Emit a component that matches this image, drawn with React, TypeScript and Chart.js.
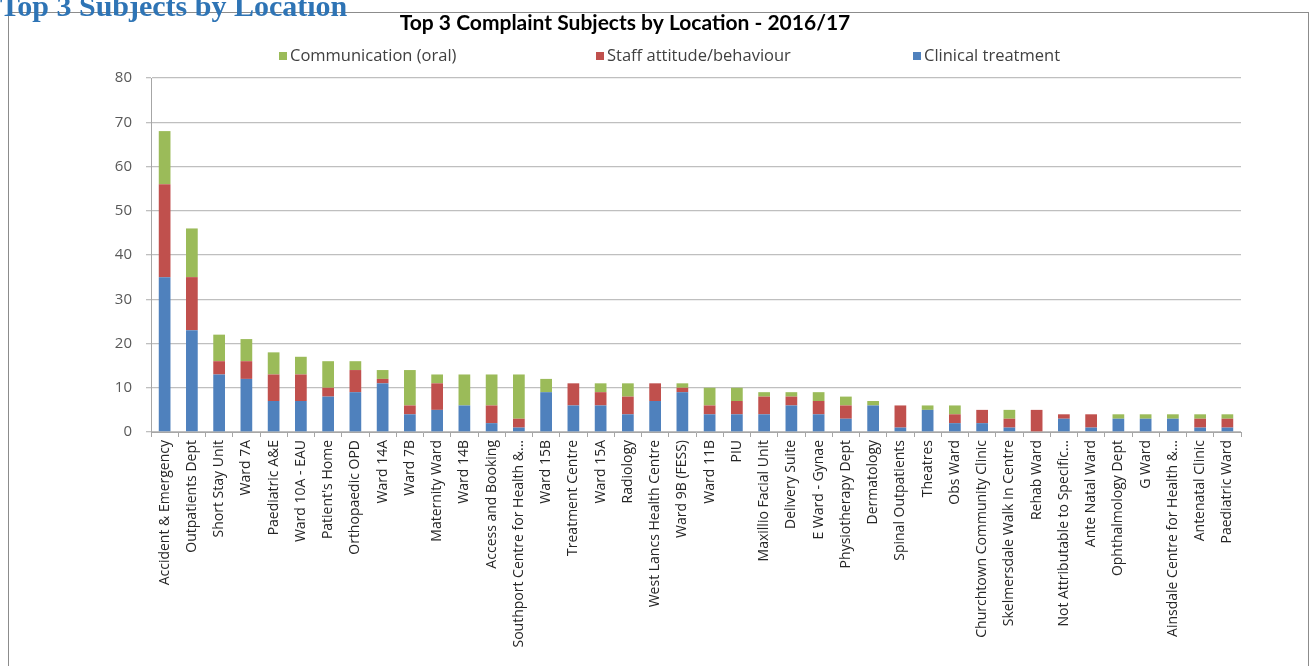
import React, { useEffect, useRef } from "react";
import { Chart, registerables } from "chart.js";

Chart.register(...registerables);

const locations = [
  "Accident & Emergency",
  "Outpatients Dept",
  "Short Stay Unit",
  "Ward 7A",
  "Paediatric A&E",
  "Ward 10A - EAU",
  "Patient's Home",
  "Orthopaedic OPD",
  "Ward 14A",
  "Ward 7B",
  "Maternity Ward",
  "Ward 14B",
  "Access and Booking",
  "Southport Centre for Health &...",
  "Ward 15B",
  "Treatment Centre",
  "Ward 15A",
  "Radiology",
  "West Lancs Health Centre",
  "Ward 9B (FESS)",
  "Ward 11B",
  "PIU",
  "Maxillio Facial Unit",
  "Delivery Suite",
  "E Ward - Gynae",
  "Physiotherapy Dept",
  "Dermatology",
  "Spinal Outpatients",
  "Theatres",
  "Obs Ward",
  "Churchtown Community Clinic",
  "Skelmersdale Walk In Centre",
  "Rehab Ward",
  "Not Attributable to Specific...",
  "Ante Natal Ward",
  "Ophthalmology Dept",
  "G Ward",
  "Ainsdale Centre for Health &...",
  "Antenatal Clinic",
  "Paediatric Ward",
];

const clinicalTreatment = [35, 23, 13, 12, 7, 7, 8, 9, 11, 4, 5, 6, 2, 1, 9, 6, 6, 4, 7, 9, 4, 4, 4, 6, 4, 3, 6, 1, 5, 2, 2, 1, 0, 3, 1, 3, 3, 3, 1, 1];
const staffAttitude = [21, 12, 3, 4, 6, 6, 2, 5, 1, 2, 6, 0, 4, 2, 0, 5, 3, 4, 4, 1, 2, 3, 4, 2, 3, 3, 0, 5, 0, 2, 3, 2, 5, 1, 3, 0, 0, 0, 2, 2];
const communicationOral = [12, 11, 6, 5, 5, 4, 6, 2, 2, 8, 2, 7, 7, 10, 3, 0, 2, 3, 0, 1, 4, 3, 1, 1, 2, 2, 1, 0, 1, 2, 0, 2, 0, 0, 0, 1, 1, 1, 1, 1];

const seriesNames = ["Clinical treatment", "Staff attitude/behaviour", "Communication (oral)"];
const seriesColors = ["#4F81BD", "#C0504D", "#9BBB59"];
const yTicks = [0, 10, 20, 30, 40, 50, 60, 70, 80];

const chartTitle = "Top 3 Complaint Subjects by Location - 2016/17";
const pageHeading = "Top 3 Subjects by Location";

const CANVAS_W = 1299;
const CANVAS_H = 653;

// Legend spread across the top like Excel's legend
const spreadLegend = {
  id: "spreadLegend",
  afterDraw(chart: any) {
    const ctx = chart.ctx;
    const ds = chart.data.datasets.slice().reverse();
    const startX = chart.chartArea.left + 128;
    const step = 317;
    const y = 43;
    ctx.save();
    ctx.font = "16.5px 'Open Sans'";
    ctx.textBaseline = "middle";
    ctx.textAlign = "left";
    ds.forEach((d: any, i: number) => {
      const x = startX + i * step;
      ctx.fillStyle = d.backgroundColor;
      ctx.fillRect(x, y - 4, 8, 8);
      ctx.fillStyle = "#404040";
      ctx.fillText(d.label, x + 11, y);
    });
    ctx.restore();
  },
};

export default function App() {
  const ref = useRef<HTMLCanvasElement | null>(null);

  useEffect(() => {
    if (!ref.current) return;
    const datasets = [clinicalTreatment, staffAttitude, communicationOral].map((vals, i) => ({
      label: seriesNames[i],
      data: vals,
      backgroundColor: seriesColors[i],
      borderWidth: 0,
      barPercentage: 0.43,
      categoryPercentage: 1,
    }));
    const chart = new Chart(ref.current, {
      type: "bar",
      data: { labels: locations, datasets },
      options: {
        responsive: false,
        animation: false,
        layout: { padding: { left: 0, right: 67, top: 0, bottom: 0 } },
        plugins: {
          legend: { display: false },
          tooltip: { enabled: false },
          title: {
            display: true,
            text: chartTitle,
            color: "#000000",
            font: { family: "Lato", size: 21, weight: "bold", lineHeight: 1 },
            padding: { top: 0, bottom: 44 },
          },
        },
        scales: {
          x: {
            stacked: true,
            afterFit: (scale: any) => {
              scale.height = 234;
            },
            grid: {
              display: true,
              drawOnChartArea: false,
              drawTicks: true,
              tickLength: 5,
              color: "#a6a6a6",
              offset: true,
            },
            border: { color: "#a6a6a6" },
            ticks: {
              autoSkip: false,
              maxRotation: 90,
              minRotation: 90,
              padding: 3,
              color: "#262626",
              font: { family: "Open Sans", size: 14 },
            },
          },
          y: {
            stacked: true,
            min: 0,
            max: 80,
            afterFit: (scale: any) => {
              scale.width = 142;
            },
            afterBuildTicks: (scale: any) => {
              scale.ticks = yTicks.map((v) => ({ value: v }));
            },
            grid: { color: "#bfbfbf", tickLength: 5, lineWidth: 1.3 },
            border: { color: "#a6a6a6" },
            ticks: {
              padding: 14,
              color: "#595959",
              font: { family: "Open Sans", size: 15 },
            },
          },
        },
      },
      plugins: [spreadLegend],
    });
    return () => chart.destroy();
  }, []);

  return (
    <div style={{ position: "fixed", left: 0, top: 0, width: 1312, height: 666, background: "#fff", overflow: "hidden" }}>
      <div
        style={{
          position: "absolute",
          left: 8,
          top: 12,
          width: 1299,
          height: 700,
          border: "1px solid #8c8c8c",
          background: "#fff",
        }}
      >
        <canvas ref={ref} width={CANVAS_W} height={CANVAS_H} style={{ width: CANVAS_W, height: CANVAS_H, display: "block" }} />
      </div>
      <div
        style={{
          position: "absolute",
          left: 0,
          top: -9,
          fontFamily: "'Liberation Serif', serif",
          fontWeight: "bold",
          fontSize: 30,
          lineHeight: "30px",
          color: "#2E74B5",
          whiteSpace: "nowrap",
        }}
      >
        {pageHeading}
      </div>
    </div>
  );
}
